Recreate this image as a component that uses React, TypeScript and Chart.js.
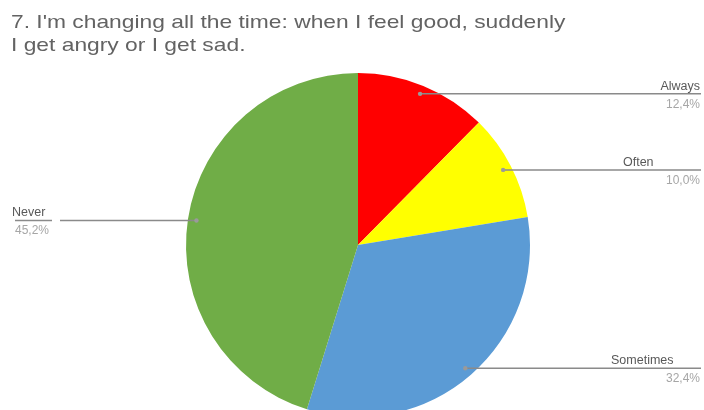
import React, { useEffect, useRef } from "react";
import { Chart, registerables } from "chart.js";

Chart.register(...registerables);

const titleLines = [
  "7. I'm changing all the time: when I feel good, suddenly",
  "I get angry or I get sad.",
];
const categories = ["Always", "Often", "Sometimes", "Never"];
const values = [12.4, 10.0, 32.4, 45.2];
const percentLabels = ["12,4%", "10,0%", "32,4%", "45,2%"];
const colors = ["#FF0000", "#FFFF00", "#5B9BD5", "#70AD47"];

// label layout (styling only): side, name x & align, pct x & align
const labelLayout = [
  { side: "right", nameX: 700, nameAlign: "right", pctX: 700, pctAlign: "right" },
  { side: "right", nameX: 623, nameAlign: "left", pctX: 700, pctAlign: "right" },
  { side: "right", nameX: 611, nameAlign: "left", pctX: 700, pctAlign: "right" },
  { side: "left", nameX: 12, nameAlign: "left", pctX: 15, pctAlign: "left" },
];

const calloutPlugin = {
  id: "callouts",
  afterDraw(chart: any) {
    const ctx = chart.ctx;
    ctx.save();
    // title (source image is horizontally stretched)
    ctx.fillStyle = "#636363";
    ctx.font = "19px 'Liberation Sans', Arial, sans-serif";
    ctx.textAlign = "left";
    ctx.textBaseline = "alphabetic";
    ctx.save();
    ctx.translate(11, 0);
    ctx.scale(1.2, 1);
    ctx.fillText(titleLines[0], 0, 28);
    ctx.fillText(titleLines[1], 0, 51);
    ctx.restore();

    const meta = chart.getDatasetMeta(0);
    meta.data.forEach((arc: any, i: number) => {
      const p = arc.getProps(["x", "y", "startAngle", "endAngle", "outerRadius"], true);
      const mid = (p.startAngle + p.endAngle) / 2;
      const r = p.outerRadius * 0.95;
      const dx = p.x + Math.cos(mid) * r;
      const dy = p.y + Math.sin(mid) * r;
      const lay = labelLayout[i];
      ctx.strokeStyle = "#8a8a8a";
      ctx.lineWidth = 1.5;
      ctx.beginPath();
      if (lay.side === "right") {
        ctx.moveTo(dx, dy);
        ctx.lineTo(701, dy);
      } else {
        ctx.moveTo(60, dy);
        ctx.lineTo(dx, dy);
        ctx.moveTo(15, dy);
        ctx.lineTo(52, dy);
      }
      ctx.stroke();
      ctx.fillStyle = "#9a9a9a";
      ctx.beginPath();
      ctx.arc(dx, dy, 2.2, 0, Math.PI * 2);
      ctx.fill();

      ctx.font = "12.5px 'Liberation Sans', Arial, sans-serif";
      ctx.fillStyle = "#595959";
      ctx.textAlign = lay.nameAlign;
      ctx.fillText(categories[i], lay.nameX, dy - 4);
      ctx.font = "12px 'Liberation Sans', Arial, sans-serif";
      ctx.fillStyle = "#a6a6a6";
      ctx.textAlign = lay.pctAlign;
      ctx.fillText(percentLabels[i], lay.pctX, dy + 14);
    });
    ctx.restore();
  },
};

export default function App() {
  const ref = useRef<HTMLCanvasElement>(null);
  useEffect(() => {
    if (!ref.current) return;
    const chart = new Chart(ref.current, {
      type: "pie",
      data: {
        labels: categories,
        datasets: [
          {
            data: values,
            backgroundColor: colors,
            borderWidth: 0,
          },
        ],
      },
      options: {
        responsive: false,
        animation: false,
        layout: { padding: { top: 73, bottom: 13, left: 12, right: 0 } },
        plugins: {
          legend: { display: false },
          tooltip: { enabled: false },
          title: { display: false },
        },
      },
      plugins: [calloutPlugin],
    } as any);
    return () => chart.destroy();
  }, []);
  return (
    <div
      style={{
        position: "absolute",
        left: 0,
        top: 0,
        width: 704,
        height: 410,
        overflow: "hidden",
        background: "#fff",
      }}
    >
      <canvas ref={ref} width={704} height={430} style={{ width: 704, height: 430, display: "block" }} />
    </div>
  );
}
